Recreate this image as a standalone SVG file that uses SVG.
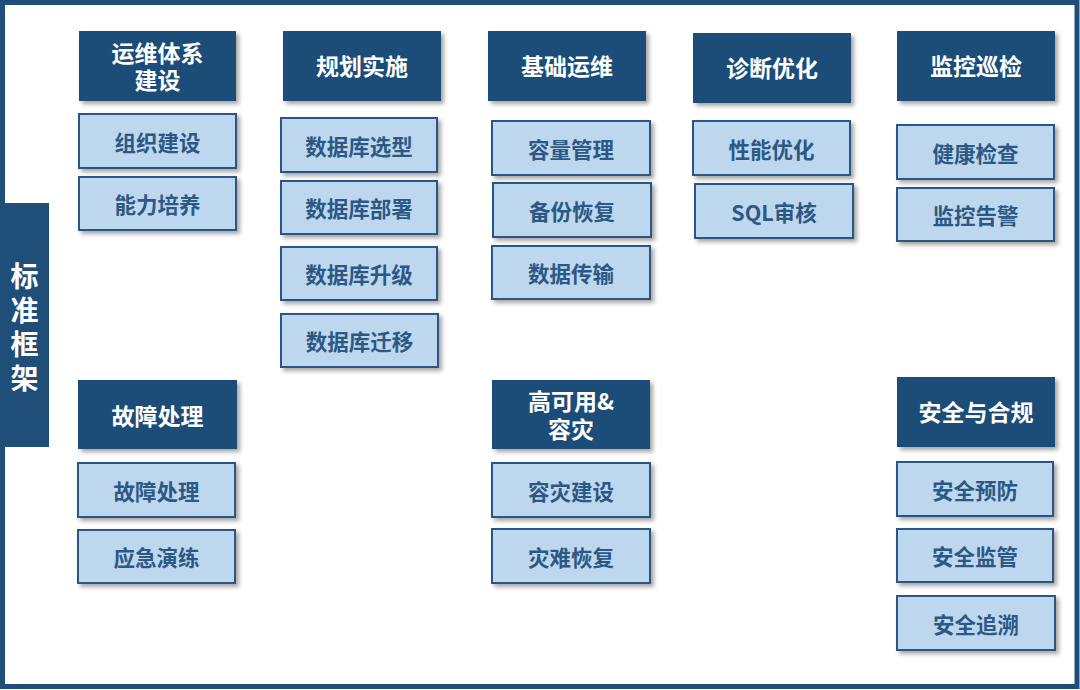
<svg xmlns="http://www.w3.org/2000/svg" width="1080" height="690" viewBox="0 0 1080 690">
<defs>
<filter id="sh" x="-10%" y="-20%" width="125%" height="150%">
<feDropShadow dx="3" dy="3" stdDeviation="2" flood-color="#000" flood-opacity="0.35"/>
</filter>
<style>
.hdr{fill:#1f4e79;filter:url(#sh)}
.item{fill:#bdd7ee;stroke:#2a5785;stroke-width:2;filter:url(#sh)}
.ht{fill:#fff;font-family:"Noto Sans CJK SC","Liberation Sans",sans-serif;font-weight:bold;font-size:23px;text-anchor:middle;dominant-baseline:central}
.it{fill:#2c5884;font-family:"Noto Sans CJK SC","Liberation Sans",sans-serif;font-weight:bold;font-size:21.5px;text-anchor:middle;dominant-baseline:central}
.side{fill:#fff;font-family:"Noto Sans CJK SC","Liberation Sans",sans-serif;font-weight:bold;font-size:28px;text-anchor:middle;dominant-baseline:central;writing-mode:vertical-rl;text-orientation:upright;letter-spacing:6px}
</style>
</defs>
<rect x="0" y="0" width="1080" height="690" fill="#fff"/>
<rect x="2.5" y="2.5" width="1074.5" height="684" fill="none" stroke="#1f4e79" stroke-width="5"/>

<g id="side-label">
<rect x="0" y="203" width="49" height="244" fill="#1f4e79"/>
<text class="side" x="24.5" y="330">标准框架</text>
</g>

<g id="connectors"></g>

<!-- Column 1 -->
<g id="h-ops-system"><rect class="hdr" x="79" y="31" width="157" height="70"/><text class="ht"><tspan x="157.5" y="52">运维体系</tspan><tspan x="157.5" y="79">建设</tspan></text></g>
<g id="i-org"><rect class="item" x="79" y="114" width="157" height="54"/><text class="it" x="157.5" y="141">组织建设</text></g>
<g id="i-ability"><rect class="item" x="79" y="177" width="157" height="53"/><text class="it" x="157.5" y="203.5">能力培养</text></g>
<g id="h-fault"><rect class="hdr" x="78" y="380" width="159" height="69"/><text class="ht" x="157.5" y="414.5">故障处理</text></g>
<g id="i-fault"><rect class="item" x="78" y="463" width="157" height="54"/><text class="it" x="156.5" y="490">故障处理</text></g>
<g id="i-emergency"><rect class="item" x="78" y="530" width="157" height="53"/><text class="it" x="156.5" y="556.5">应急演练</text></g>

<!-- Column 2 -->
<g id="h-plan"><rect class="hdr" x="283" y="31" width="158" height="70"/><text class="ht" x="362" y="65">规划实施</text></g>
<g id="i-select"><rect class="item" x="281" y="118" width="156" height="54"/><text class="it" x="359" y="145">数据库选型</text></g>
<g id="i-deploy"><rect class="item" x="281" y="181" width="156" height="53"/><text class="it" x="359" y="207.5">数据库部署</text></g>
<g id="i-upgrade"><rect class="item" x="281" y="247" width="156" height="53"/><text class="it" x="359" y="273.5">数据库升级</text></g>
<g id="i-migrate"><rect class="item" x="281" y="314" width="157" height="53"/><text class="it" x="359.5" y="340.5">数据库迁移</text></g>

<!-- Column 3 -->
<g id="h-basic"><rect class="hdr" x="488" y="31" width="158" height="70"/><text class="ht" x="567" y="65">基础运维</text></g>
<g id="i-capacity"><rect class="item" x="492" y="121" width="158" height="54"/><text class="it" x="571" y="148">容量管理</text></g>
<g id="i-backup"><rect class="item" x="493" y="183" width="158" height="54"/><text class="it" x="572" y="210">备份恢复</text></g>
<g id="i-transfer"><rect class="item" x="492" y="246" width="158" height="53"/><text class="it" x="571" y="272.5">数据传输</text></g>
<g id="h-ha"><rect class="hdr" x="492" y="380" width="158" height="69"/><text class="ht"><tspan x="571" y="400">高可用&amp;</tspan><tspan x="571" y="428">容灾</tspan></text></g>
<g id="i-dr-build"><rect class="item" x="492" y="463" width="158" height="54"/><text class="it" x="571" y="490">容灾建设</text></g>
<g id="i-dr-recover"><rect class="item" x="492" y="529" width="158" height="54"/><text class="it" x="571" y="556">灾难恢复</text></g>

<!-- Column 4 -->
<g id="h-diag"><rect class="hdr" x="693" y="33" width="158" height="70"/><text class="ht" x="772" y="67">诊断优化</text></g>
<g id="i-perf"><rect class="item" x="693" y="121" width="157" height="54"/><text class="it" x="771.5" y="148">性能优化</text></g>
<g id="i-sql"><rect class="item" x="695" y="184" width="158" height="54"/><text class="it" x="774" y="211">SQL审核</text></g>

<!-- Column 5 -->
<g id="h-monitor"><rect class="hdr" x="897" y="31" width="158" height="70"/><text class="ht" x="976" y="65">监控巡检</text></g>
<g id="i-health"><rect class="item" x="897" y="125" width="157" height="54"/><text class="it" x="975.5" y="152">健康检查</text></g>
<g id="i-alert"><rect class="item" x="897" y="188" width="157" height="53"/><text class="it" x="975.5" y="214.5">监控告警</text></g>
<g id="h-security"><rect class="hdr" x="897" y="377" width="158" height="70"/><text class="ht" x="976" y="411">安全与合规</text></g>
<g id="i-prevent"><rect class="item" x="897" y="462" width="156" height="54"/><text class="it" x="975" y="489">安全预防</text></g>
<g id="i-supervise"><rect class="item" x="897" y="529" width="156" height="53"/><text class="it" x="975" y="555.5">安全监管</text></g>
<g id="i-trace"><rect class="item" x="897" y="596" width="158" height="54"/><text class="it" x="976" y="623">安全追溯</text></g>
</svg>
